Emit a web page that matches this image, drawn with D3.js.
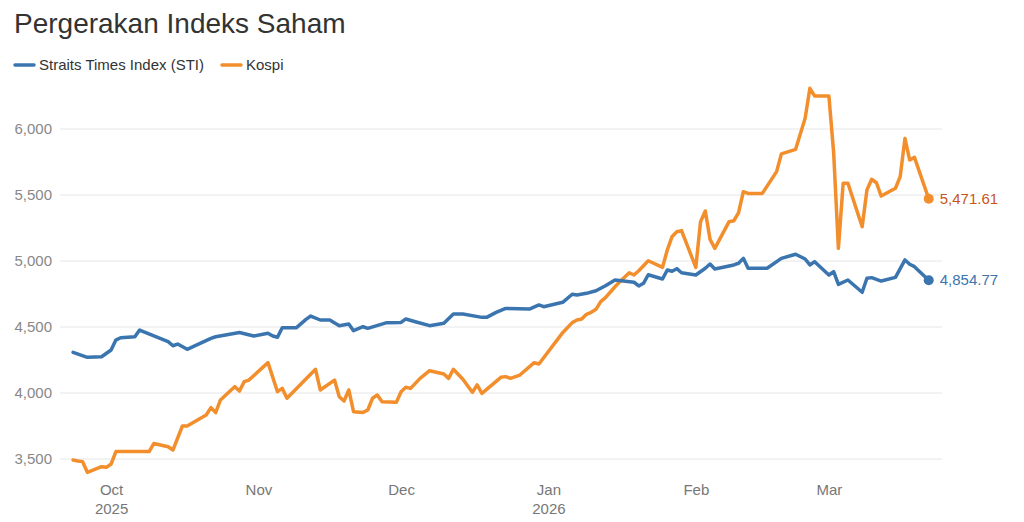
<!DOCTYPE html>
<html>
<head>
<meta charset="utf-8">
<script src="https://cdnjs.cloudflare.com/ajax/libs/d3/7.8.5/d3.min.js"></script>
<style>
  body { margin: 0; background: #fff; }
  text { font-family: "Liberation Sans", Arial, sans-serif; }
</style>
</head>
<body>
<div id="chart"></div>
<script>
var seriesNames = ["Straits Times Index (STI)", "Kospi"];
var seriesColors = ["#3b75af", "#f28e2b"];
var labelColors = ["#3b75af", "#c8561b"];
var yTicks = [3500, 4000, 4500, 5000, 5500, 6000];

var stiDates = [
  "2025-09-23","2025-09-26","2025-09-29","2025-10-01","2025-10-02","2025-10-03","2025-10-06","2025-10-07",
  "2025-10-13","2025-10-14","2025-10-15","2025-10-17","2025-10-22","2025-10-23","2025-10-28","2025-10-31",
  "2025-11-03","2025-11-04","2025-11-05","2025-11-06","2025-11-09","2025-11-11","2025-11-12","2025-11-14",
  "2025-11-16","2025-11-18","2025-11-20","2025-11-21","2025-11-23","2025-11-24","2025-11-28","2025-12-01",
  "2025-12-02","2025-12-04","2025-12-07","2025-12-10","2025-12-12","2025-12-14","2025-12-18","2025-12-19",
  "2025-12-21","2025-12-23","2025-12-28","2025-12-30","2025-12-31","2026-01-04","2026-01-06","2026-01-07",
  "2026-01-09","2026-01-11","2026-01-13","2026-01-15","2026-01-19","2026-01-20","2026-01-21","2026-01-22",
  "2026-01-25","2026-01-26","2026-01-27","2026-01-28","2026-01-29","2026-02-01","2026-02-03","2026-02-04",
  "2026-02-05","2026-02-09","2026-02-10","2026-02-11","2026-02-12","2026-02-16","2026-02-19","2026-02-22",
  "2026-02-24","2026-02-25","2026-02-26","2026-03-01","2026-03-02","2026-03-03","2026-03-05","2026-03-08",
  "2026-03-09","2026-03-10","2026-03-12","2026-03-15","2026-03-17","2026-03-18","2026-03-19","2026-03-22"
];
var stiValues = [
  4308, 4270, 4275, 4326, 4401, 4419, 4426, 4477,
  4389, 4358, 4371, 4331, 4414, 4426, 4458, 4432,
  4452, 4432, 4422, 4495, 4495, 4558, 4583, 4553,
  4553, 4510, 4523, 4472, 4502, 4490, 4533, 4535,
  4561, 4540, 4510, 4528, 4598, 4598, 4573, 4573,
  4611, 4641, 4636, 4667, 4654, 4687, 4748, 4742,
  4755, 4775, 4813, 4856, 4839, 4811, 4831, 4896,
  4864, 4932, 4922, 4942, 4911, 4894, 4945, 4977,
  4939, 4970, 4983, 5020, 4945, 4945, 5020, 5051,
  5015, 4970, 4995, 4894, 4919, 4823, 4856, 4763,
  4869, 4874, 4848, 4876, 5008, 4975, 4957, 4854.77
];

var kospiDates = [
  "2025-09-23","2025-09-24","2025-09-25","2025-09-26","2025-09-29","2025-09-30","2025-10-01","2025-10-02",
  "2025-10-09","2025-10-10","2025-10-13","2025-10-14","2025-10-16","2025-10-17","2025-10-21","2025-10-22",
  "2025-10-23","2025-10-24","2025-10-27","2025-10-28","2025-10-29","2025-10-30","2025-11-03","2025-11-05",
  "2025-11-06","2025-11-07","2025-11-13","2025-11-14","2025-11-17","2025-11-18","2025-11-19","2025-11-20",
  "2025-11-21","2025-11-23","2025-11-24","2025-11-25","2025-11-26","2025-11-27","2025-11-30","2025-12-01",
  "2025-12-02","2025-12-03","2025-12-05","2025-12-07","2025-12-10","2025-12-11","2025-12-12","2025-12-14",
  "2025-12-16","2025-12-17","2025-12-18","2025-12-22","2025-12-23","2025-12-24","2025-12-26","2025-12-29",
  "2025-12-30","2026-01-04","2026-01-06","2026-01-07","2026-01-08","2026-01-09","2026-01-10","2026-01-11",
  "2026-01-12","2026-01-13","2026-01-15","2026-01-16","2026-01-18","2026-01-19","2026-01-20","2026-01-22",
  "2026-01-25","2026-01-26","2026-01-27","2026-01-28","2026-01-29","2026-02-01","2026-02-02","2026-02-03",
  "2026-02-04","2026-02-05","2026-02-08","2026-02-09","2026-02-10","2026-02-11","2026-02-12","2026-02-15",
  "2026-02-18","2026-02-19","2026-02-22","2026-02-24","2026-02-25","2026-02-26","2026-03-01","2026-03-02",
  "2026-03-03","2026-03-04","2026-03-05","2026-03-08","2026-03-09","2026-03-10","2026-03-11","2026-03-12",
  "2026-03-15","2026-03-16","2026-03-17","2026-03-18","2026-03-19","2026-03-22"
];
var kospiValues = [
  3492, 3485, 3480, 3399, 3442, 3437, 3462, 3556,
  3556, 3618, 3593, 3568, 3750, 3750, 3833, 3889,
  3851, 3947, 4048, 4015, 4086, 4098, 4230, 4010,
  4035, 3960, 4180, 4023, 4098, 3972, 3939, 4023,
  3858, 3853, 3871, 3960, 3985, 3934, 3929, 4010,
  4043, 4035, 4111, 4169, 4144, 4111, 4180, 4104,
  4005, 4061, 3997, 4119, 4124, 4111, 4136, 4230,
  4220, 4457, 4533, 4553, 4561, 4596, 4611, 4634,
  4692, 4722, 4805, 4843, 4911, 4894, 4926, 5002,
  4952, 5083, 5184, 5222, 5230, 4952, 5298, 5379,
  5164, 5096, 5298, 5305, 5366, 5525, 5512, 5512,
  5677, 5811, 5846, 6081, 6308, 6250, 6250, 5820,
  5096, 5589, 5589, 5260, 5538, 5619, 5593, 5492,
  5551, 5639, 5929, 5765, 5785, 5471.61
];

var margin = {top: 129, right: 82, bottom: 63, left: 60},
    width = 1024 - margin.left - margin.right,
    height = 522 - margin.top - margin.bottom;

var parseDate = d3.timeParse("%Y-%m-%d");

var series = [
  seriesNames[0], seriesNames[1]
].map(function(name, i) {
  var dates = i === 0 ? stiDates : kospiDates;
  var values = i === 0 ? stiValues : kospiValues;
  return {
    name: name,
    color: seriesColors[i],
    labelColor: labelColors[i],
    values: dates.map(function(d, j) { return {date: parseDate(d), value: values[j]}; })
  };
});

var svg = d3.select("#chart")
  .append("svg")
    .attr("width", 1024)
    .attr("height", 522);

svg.append("text")
    .attr("x", 14)
    .attr("y", 33)
    .attr("fill", "#333")
    .style("font-size", "28px")
    .text("Pergerakan Indeks Saham");

var legend = svg.append("g");
var legendX = [15, 222];
series.forEach(function(s, i) {
  legend.append("line")
      .attr("x1", legendX[i]).attr("x2", legendX[i] + 19)
      .attr("y1", 65).attr("y2", 65)
      .attr("stroke", s.color)
      .attr("stroke-width", 3.5)
      .attr("stroke-linecap", "round");
  legend.append("text")
      .attr("x", legendX[i] + 24)
      .attr("y", 70)
      .attr("fill", "#333")
      .style("font-size", "15px")
      .text(s.name);
});

var g = svg.append("g")
    .attr("transform", "translate(" + margin.left + "," + margin.top + ")");

// domain chosen so month ticks line up with the reference
var x = d3.scaleTime()
    .domain([new Date(2025, 8, 20, 6), new Date(2026, 2, 24, 19)])
    .range([0, width]);

var y = d3.scaleLinear()
    .domain([3500, 6000])
    .range([height, 0]);

g.append("g")
    .selectAll("line")
    .data(yTicks)
    .enter().append("line")
      .attr("x1", 0).attr("x2", width)
      .attr("y1", function(d) { return y(d); })
      .attr("y2", function(d) { return y(d); })
      .attr("stroke", "#e6e6e6")
      .attr("stroke-width", 1);

var yAxis = g.append("g")
    .call(d3.axisLeft(y).tickValues(yTicks).tickSize(0).tickPadding(8).tickFormat(d3.format(",")));
yAxis.select(".domain").remove();
yAxis.selectAll("text")
    .attr("fill", "#888")
    .style("font-size", "15px")
    .style("font-family", "'Liberation Sans', Arial, sans-serif");

var xAxis = g.append("g")
    .attr("transform", "translate(0," + height + ")")
    .call(d3.axisBottom(x).ticks(d3.timeMonth.every(1)).tickSize(0).tickPadding(25)
      .tickFormat(d3.timeFormat("%b")));
xAxis.select(".domain").remove();
xAxis.selectAll("text")
    .attr("fill", "#777")
    .style("font-size", "15px")
    .style("font-family", "'Liberation Sans', Arial, sans-serif");
xAxis.selectAll(".tick")
  .filter(function(d, i) { return i === 0 || d.getMonth() === 0; })
  .append("text")
    .attr("y", 55)
    .attr("fill", "#777")
    .attr("text-anchor", "middle")
    .style("font-size", "15px")
    .text(function(d) { return d.getFullYear(); });

var line = d3.line()
    .x(function(d) { return x(d.date); })
    .y(function(d) { return y(d.value); });

series.slice().reverse().forEach(function(s) {
  g.append("path")
      .datum(s.values)
      .attr("fill", "none")
      .attr("stroke", s.color)
      .attr("stroke-width", 3.5)
      .attr("stroke-linejoin", "round")
      .attr("stroke-linecap", "round")
      .attr("d", line);
});

series.forEach(function(s) {
  var last = s.values[s.values.length - 1];
  g.append("circle")
      .attr("cx", x(last.date))
      .attr("cy", y(last.value))
      .attr("r", 5)
      .attr("fill", s.color);
  g.append("text")
      .attr("x", x(last.date) + 11)
      .attr("y", y(last.value) + 5)
      .attr("fill", s.labelColor)
      .style("font-size", "15px")
      .text(d3.format(",.2f")(last.value));
});
</script>
</body>
</html>
